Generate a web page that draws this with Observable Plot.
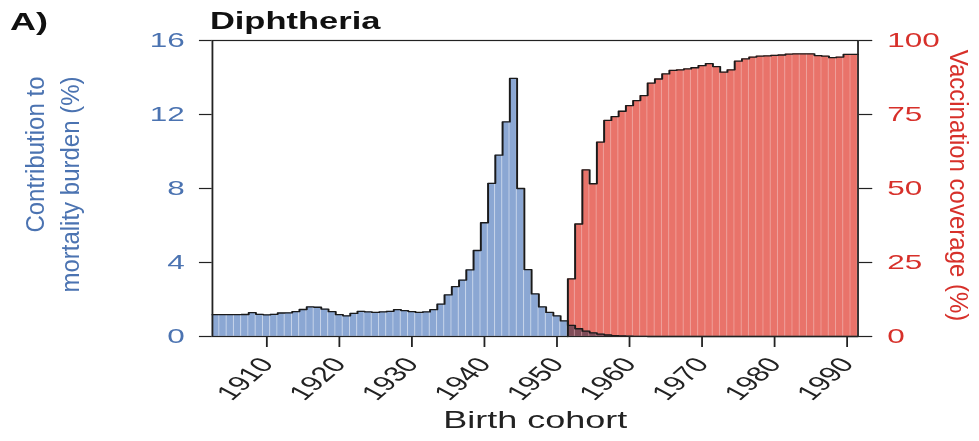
<!DOCTYPE html>
<html><head><meta charset="utf-8">
<script src="https://cdn.jsdelivr.net/npm/d3@7"></script>
<script src="https://cdn.jsdelivr.net/npm/@observablehq/plot@0.6"></script>
<style>
html,body{margin:0;padding:0;background:#fff;overflow:hidden;}
#wrap{position:relative;width:653px;height:441px;transform:scaleX(1.49923);transform-origin:0 0;font-family:"Liberation Sans",Arial,Helvetica,sans-serif;}
#panel{position:absolute;left:6.7px;top:9.7px;font-size:24px;line-height:24px;font-weight:bold;color:#111;white-space:nowrap;}
#title{position:absolute;left:140px;top:9.9px;font-size:23px;line-height:23px;font-weight:bold;color:#111;white-space:nowrap;}
#chart{position:absolute;left:0;top:30px;}
</style></head><body>
<div id="wrap"><div id="panel">A)</div><div id="title">Diphtheria</div><div id="chart"></div></div>
<script>
// Contribution to mortality burden (%) by birth cohort, starting 1903
const burdenStartYear = 1903;
const burdenPct = [
  1.18, 1.18, 1.18, 1.18, 1.19, 1.29, 1.20, 1.17, 1.20, 1.27,
  1.28, 1.35, 1.46, 1.60, 1.58, 1.48, 1.34, 1.18, 1.12, 1.25,
  1.36, 1.33, 1.30, 1.33, 1.36, 1.45, 1.40, 1.35, 1.30, 1.33,
  1.45, 1.75, 2.25, 2.70, 3.05, 3.60, 4.65, 6.15, 8.28, 9.80,
  11.6, 13.95, 8.00, 3.62, 2.30, 1.60, 1.30, 1.12, 0.84, 0.60,
  0.42, 0.29, 0.20, 0.13, 0.08, 0.05, 0.03, 0.02, 0.01, 0.01,
  0, 0, 0, 0, 0, 0, 0, 0, 0, 0,
  0, 0, 0, 0, 0, 0, 0, 0, 0, 0,
  0, 0, 0, 0, 0, 0, 0, 0, 0
];
// Vaccination coverage (%) by birth cohort, starting 1952
const coverageStartYear = 1952;
const coveragePct = [
  19.5, 38.0, 56.3, 51.6, 65.7, 73.0, 74.3, 76.1, 78.0, 79.7,
  81.4, 85.6, 87.0, 88.7, 89.9, 90.1, 90.4, 90.8, 91.5, 92.2,
  91.2, 89.3, 90.1, 93.0, 93.8, 94.4, 94.7, 94.8, 95.0, 95.1,
  95.4, 95.5, 95.5, 95.5, 94.9, 94.7, 94.2, 94.4, 95.3, 95.3
];
const xTicks = [1910, 1920, 1930, 1940, 1950, 1960, 1970, 1980, 1990];
const leftTicks = [0, 4, 8, 12, 16];
const rightTicks = [0, 25, 50, 75, 100];
const xDomain = [1902.5, 1991.5];

const BLUE = "#8ba7d3", RED = "#e9736a", BLUE_TEXT = "#4b73b1", RED_TEXT = "#d7302a";
const K = leftTicks[leftTicks.length - 1] / rightTicks[rightTicks.length - 1];

const burden = burdenPct.map((v, i) => ({year: burdenStartYear + i, v}));
const coverage = coveragePct.map((v, i) => ({year: coverageStartYear + i, v: v * K}));
function steps(rows, fromZero) {
  const pts = [];
  if (fromZero) pts.push({x: rows[0].year - 0.5, y: 0});
  for (const r of rows) { pts.push({x: r.year - 0.5, y: r.v}); pts.push({x: r.year + 0.5, y: r.v}); }
  return pts;
}
const FONT = '"Liberation Sans", Arial, Helvetica, sans-serif';

const plot = Plot.plot({
  width: 653, height: 411,
  marginLeft: 141.2, marginRight: 81.2, marginTop: 10, marginBottom: 105,
  x: {domain: xDomain, axis: null},
  y: {domain: [0, 16], axis: null},
  style: {fontFamily: FONT, background: "transparent", overflow: "visible"},
  marks: [
    Plot.rect(burden, {x1: d => d.year - 0.5, x2: d => d.year + 0.5, y1: 0, y2: "v", fill: BLUE, stroke: "white", strokeOpacity: 0.28, strokeWidth: 0.7}),
    Plot.rect(coverage, {x1: d => d.year - 0.5, x2: d => d.year + 0.5, y1: 0, y2: "v", fill: RED, stroke: "white", strokeOpacity: 0.25, strokeWidth: 0.7, mixBlendMode: "multiply"}),
    Plot.line(steps(coverage, true), {x: "x", y: "y", stroke: "#1a1a1a", strokeWidth: 1.3}),
    Plot.line(steps(burden, false), {x: "x", y: "y", stroke: "#1a1a1a", strokeWidth: 1.3}),
    Plot.frame({stroke: "#222", strokeWidth: 1.2}),
    Plot.axisY(leftTicks, {anchor: "left", tickSize: 8.5, tickPadding: 10, fontSize: 21, stroke: "#222", strokeWidth: 1.2, fill: BLUE_TEXT, label: null, tickFormat: d => String(d)}),
    Plot.axisY(rightTicks.map(v => v * K), {anchor: "right", tickSize: 9, tickPadding: 10.5, fontSize: 21, stroke: "#222", strokeWidth: 1.2, fill: RED_TEXT, label: null, tickFormat: d => String(Math.round(d / K))}),
    Plot.axisX(xTicks, {anchor: "bottom", tickSize: 11, tickPadding: 13, tickRotate: -52, fontSize: 21, stroke: "#222", strokeWidth: 1.2, fill: "#222", label: null, tickFormat: d => String(d)}),
    Plot.text(["Birth cohort"], {frameAnchor: "bottom", dy: 91, lineAnchor: "bottom", fontSize: 24, fill: "#222"}),
    Plot.text(["Contribution to"], {frameAnchor: "top-left", rotate: -90, textAnchor: "end", lineAnchor: "bottom", dx: 28.7 - 141.2, dy: 36, fontSize: 24, fill: BLUE_TEXT, className: "ytitle"}),
    Plot.text(["mortality burden (%)"], {frameAnchor: "top-left", rotate: -90, textAnchor: "end", lineAnchor: "bottom", dx: 52 - 141.2, dy: 36, fontSize: 24, fill: BLUE_TEXT, className: "ytitle"}),
    Plot.text(["Vaccination coverage (%)"], {frameAnchor: "right", rotate: 90, textAnchor: "middle", lineAnchor: "bottom", dx: 61.5, dy: -3, fontSize: 24, fill: RED_TEXT, className: "ytitle"})
  ]
});
document.getElementById("chart").appendChild(plot);
d3.select(plot).selectAll(".ytitle text").each(function() {
  const t = this.getAttribute("transform") || "";
  this.setAttribute("transform", t + " scale(1,0.72)");
});
</script>
</body></html>
